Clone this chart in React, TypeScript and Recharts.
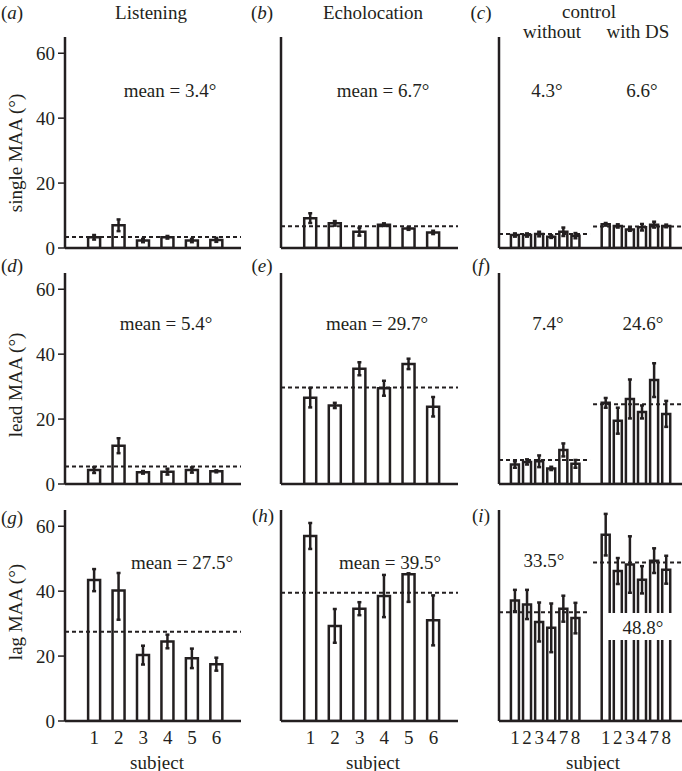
import React from 'react';
import { ComposedChart, Bar, ErrorBar, XAxis, YAxis, ReferenceLine } from 'recharts';

const INK = '#231f20';
const FONT = '"Liberation Serif", "DejaVu Serif", serif';

const subjects = ['1', '2', '3', '4', '5', '6'];
const controlSubjects = ['1', '2', '3', '4', '7', '8'];
const yTicks = [0, 20, 40, 60];

// single MAA
const listeningSingle = [3.3, 7.0, 2.3, 3.3, 2.3, 2.5];
const listeningSingleErr = [0.7, 1.8, 0.5, 0.4, 0.5, 0.6];
const echoSingle = [9.2, 7.6, 5.0, 7.2, 6.0, 4.8];
const echoSingleErr = [1.5, 0.7, 1.2, 0.4, 0.4, 0.5];
const ctrlWithoutSingle = [4.0, 4.0, 4.3, 3.5, 5.0, 3.8];
const ctrlWithoutSingleErr = [0.5, 0.5, 0.7, 0.4, 1.3, 0.8];
const ctrlWithSingle = [7.3, 6.8, 5.7, 6.4, 7.2, 6.8];
const ctrlWithSingleErr = [0.4, 0.5, 0.4, 1.0, 0.9, 0.4];

// lead MAA
const listeningLead = [4.3, 11.8, 3.6, 3.8, 4.3, 3.9];
const listeningLeadErr = [0.9, 2.3, 0.4, 0.9, 0.8, 0.3];
const echoLead = [26.6, 24.2, 35.5, 29.5, 37.0, 23.8];
const echoLeadErr = [3.0, 0.8, 2.0, 2.3, 1.6, 3.0];
const ctrlWithoutLead = [6.0, 6.8, 7.0, 4.8, 10.5, 6.2];
const ctrlWithoutLeadErr = [1.0, 0.8, 1.8, 0.5, 2.0, 1.2];
const ctrlWithLead = [25.0, 19.5, 26.2, 22.2, 32.0, 21.6];
const ctrlWithLeadErr = [1.5, 4.0, 6.0, 2.0, 5.2, 4.0];

// lag MAA
const listeningLag = [43.4, 40.2, 20.3, 24.5, 19.3, 17.5];
const listeningLagErr: (number | number[])[] = [3.4, [9.0, 5.4], 2.9, 2.1, 3.0, 2.0];
const echoLag = [57.0, 29.3, 34.6, 38.5, 45.2, 31.0];
const echoLagErr: (number | number[])[] = [4.0, 5.2, 2.0, 6.5, [8.5, 0.3], 7.7];
const ctrlWithoutLag = [37.1, 35.9, 30.5, 28.7, 34.6, 31.7];
const ctrlWithoutLagErr = [3.3, 4.5, 6.0, 7.5, 4.0, 4.7];
const ctrlWithLag = [57.4, 46.2, 48.2, 43.5, 49.4, 46.6];
const ctrlWithLagErr = [6.4, 4.0, 8.7, 4.2, 3.8, 4.3];

// means (dashed lines)
const listeningMeans = [3.4, 5.4, 27.5];
const echoMeans = [6.7, 29.7, 39.5];
const ctrlWithoutMeans = [4.3, 7.4, 33.5];
const ctrlWithMeans = [6.6, 24.6, 48.8];

// layout
const ROW_TOP = [37, 273, 510];
const PLOT_H = 211;
const COL_LEFT = [65, 281, 499];
const COL_W = [176, 177, 183];
const Y_W = 50;
const M_TOP = 5;
const X_H = 30;
const GROUP_GAP = 7.5;
const X_DOMAIN_SUBJ: [number, number] = [-0.2, 7];
const X_DOMAIN_CTRL: [number, number] = [-0.32, 14.8];

const rowsOf = (vals: number[], errs: (number | number[])[], shift = 0) =>
  vals.map((v, i) => ({ x: i + 1 + shift, v, e: errs[i] }));

type PanelProps = {
  row: number;
  col: number;
  data: { x: number; v: number; e: number | number[] }[];
  means: number[];
  showX: boolean;
};

function Panel({ row, col, data, means, showX }: PanelProps) {
  const ctrl = col === 2;
  const xDomain = ctrl ? X_DOMAIN_CTRL : X_DOMAIN_SUBJ;
  const xTicks = ctrl
    ? [...controlSubjects.map((_, i) => i + 1), ...controlSubjects.map((_, i) => i + 1 + GROUP_GAP)]
    : subjects.map((_, i) => i + 1);
  const xLabel = (t: number) =>
    ctrl ? controlSubjects[Math.round(t > 7 ? t - 1 - GROUP_GAP : t - 1)] : subjects[t - 1];
  const w = Y_W + COL_W[col] + (ctrl ? 0 : 2);
  const h = M_TOP + PLOT_H + X_H;
  const tickStyle = { fill: INK, fontSize: 19, fontFamily: FONT };
  return (
    <div style={{ position: 'absolute', left: COL_LEFT[col] - Y_W, top: ROW_TOP[row] - M_TOP }}>
      <ComposedChart width={w} height={h} data={data} margin={{ top: M_TOP, right: ctrl ? 0 : 2, bottom: 0, left: 0 }}>
        <XAxis
          type="number"
          dataKey="x"
          domain={xDomain}
          allowDataOverflow
          ticks={xTicks}
          interval={0}
          tickFormatter={xLabel}
          tickLine={false}
          tickMargin={4}
          tick={showX ? tickStyle : false}
          axisLine={{ stroke: INK, strokeWidth: 2.5 }}
          height={X_H}
        />
        <YAxis
          type="number"
          domain={[0, 65]}
          allowDataOverflow
          ticks={yTicks}
          width={Y_W}
          tick={col === 0 ? tickStyle : false}
          tickLine={col === 0 ? { stroke: INK, strokeWidth: 1.5 } : false}
          tickSize={7}
          tickMargin={3}
          axisLine={{ stroke: INK, strokeWidth: 2.5 }}
        />
        <Bar dataKey="v" fill="#fff" stroke={INK} strokeWidth={2.5} barSize={ctrl ? 8 : 12} isAnimationActive={false}>
          <ErrorBar dataKey="e" width={2} stroke={INK} strokeWidth={2.5} />
        </Bar>
        {ctrl ? (
          <>
            <ReferenceLine
              segment={[{ x: xDomain[0], y: means[0] }, { x: 7.2, y: means[0] }]}
              stroke={INK}
              strokeWidth={2}
              strokeDasharray="4 3"
            />
            <ReferenceLine
              segment={[{ x: 7.45, y: means[1] }, { x: xDomain[1], y: means[1] }]}
              stroke={INK}
              strokeWidth={2}
              strokeDasharray="4 3"
            />
          </>
        ) : (
          <ReferenceLine y={means[0]} stroke={INK} strokeWidth={2} strokeDasharray="4 3" />
        )}
      </ComposedChart>
    </div>
  );
}

function Txt({ x, y, children, size = 19, bg, rotate }: { x: number; y: number; children: React.ReactNode; size?: number; bg?: boolean; rotate?: boolean }) {
  return (
    <div
      style={{
        position: 'absolute',
        left: x,
        top: y,
        transform: `translate(-50%, -50%)${rotate ? ' rotate(-90deg)' : ''}`,
        fontFamily: FONT,
        fontSize: size,
        lineHeight: 1,
        color: INK,
        whiteSpace: 'nowrap',
        background: bg ? '#fff' : undefined,
      }}
    >
      {children}
    </div>
  );
}

const Letter = ({ x, y, l }: { x: number; y: number; l: string }) => (
  <Txt x={x} y={y}>
    (<i>{l}</i>)
  </Txt>
);

export default function App() {
  return (
    <div style={{ position: 'absolute', left: 0, top: 0, width: 682, height: 771, overflow: 'hidden', background: '#fff' }}>
      {/* row 1: single */}
      <Panel row={0} col={0} data={rowsOf(listeningSingle, listeningSingleErr)} means={[listeningMeans[0]]} showX={false} />
      <Panel row={0} col={1} data={rowsOf(echoSingle, echoSingleErr)} means={[echoMeans[0]]} showX={false} />
      <Panel
        row={0}
        col={2}
        data={[...rowsOf(ctrlWithoutSingle, ctrlWithoutSingleErr), ...rowsOf(ctrlWithSingle, ctrlWithSingleErr, GROUP_GAP)]}
        means={[ctrlWithoutMeans[0], ctrlWithMeans[0]]}
        showX={false}
      />
      {/* row 2: lead */}
      <Panel row={1} col={0} data={rowsOf(listeningLead, listeningLeadErr)} means={[listeningMeans[1]]} showX={false} />
      <Panel row={1} col={1} data={rowsOf(echoLead, echoLeadErr)} means={[echoMeans[1]]} showX={false} />
      <Panel
        row={1}
        col={2}
        data={[...rowsOf(ctrlWithoutLead, ctrlWithoutLeadErr), ...rowsOf(ctrlWithLead, ctrlWithLeadErr, GROUP_GAP)]}
        means={[ctrlWithoutMeans[1], ctrlWithMeans[1]]}
        showX={false}
      />
      {/* row 3: lag */}
      <Panel row={2} col={0} data={rowsOf(listeningLag, listeningLagErr)} means={[listeningMeans[2]]} showX />
      <Panel row={2} col={1} data={rowsOf(echoLag, echoLagErr)} means={[echoMeans[2]]} showX />
      <Panel
        row={2}
        col={2}
        data={[...rowsOf(ctrlWithoutLag, ctrlWithoutLagErr), ...rowsOf(ctrlWithLag, ctrlWithLagErr, GROUP_GAP)]}
        means={[ctrlWithoutMeans[2], ctrlWithMeans[2]]}
        showX
      />

      {/* titles */}
      <Txt x={151} y={12}>Listening</Txt>
      <Txt x={373} y={12}>Echolocation</Txt>
      <Txt x={589} y={11}>control</Txt>
      <Txt x={552} y={31}>without</Txt>
      <Txt x={638} y={31}>with DS</Txt>

      {/* panel letters */}
      <Letter x={12} y={12} l="a" />
      <Letter x={262} y={12} l="b" />
      <Letter x={481} y={12} l="c" />
      <Letter x={12} y={265} l="d" />
      <Letter x={262} y={265} l="e" />
      <Letter x={481} y={265} l="f" />
      <Letter x={12} y={517} l="g" />
      <Letter x={263} y={515} l="h" />
      <Letter x={481} y={515} l="i" />

      {/* y labels */}
      <Txt x={15} y={153} rotate>single MAA (°)</Txt>
      <Txt x={15} y={385} rotate>lead MAA (°)</Txt>
      <Txt x={15} y={612} rotate>lag MAA (°)</Txt>

      {/* mean labels */}
      <Txt x={170} y={90}>mean = {listeningMeans[0]}°</Txt>
      <Txt x={383} y={90}>mean = {echoMeans[0]}°</Txt>
      <Txt x={547} y={90}>{ctrlWithoutMeans[0]}°</Txt>
      <Txt x={642} y={90}>{ctrlWithMeans[0]}°</Txt>
      <Txt x={166} y={323}>mean = {listeningMeans[1]}°</Txt>
      <Txt x={377} y={323}>mean = {echoMeans[1]}°</Txt>
      <Txt x={548} y={323}>{ctrlWithoutMeans[1]}°</Txt>
      <Txt x={643} y={323}>{ctrlWithMeans[1]}°</Txt>
      <Txt x={182} y={562}>mean = {listeningMeans[2]}°</Txt>
      <Txt x={390} y={562}>mean = {echoMeans[2]}°</Txt>
      <Txt x={544} y={560}>{ctrlWithoutMeans[2]}°</Txt>
      <div style={{ position: 'absolute', left: 604, top: 613, width: 78, height: 27, background: '#fff' }} />
      <Txt x={643} y={627}>{ctrlWithMeans[2]}°</Txt>

      {/* x labels */}
      <Txt x={157} y={762}>subject</Txt>
      <Txt x={373} y={762}>subject</Txt>
      <Txt x={593} y={762}>subject</Txt>
    </div>
  );
}
